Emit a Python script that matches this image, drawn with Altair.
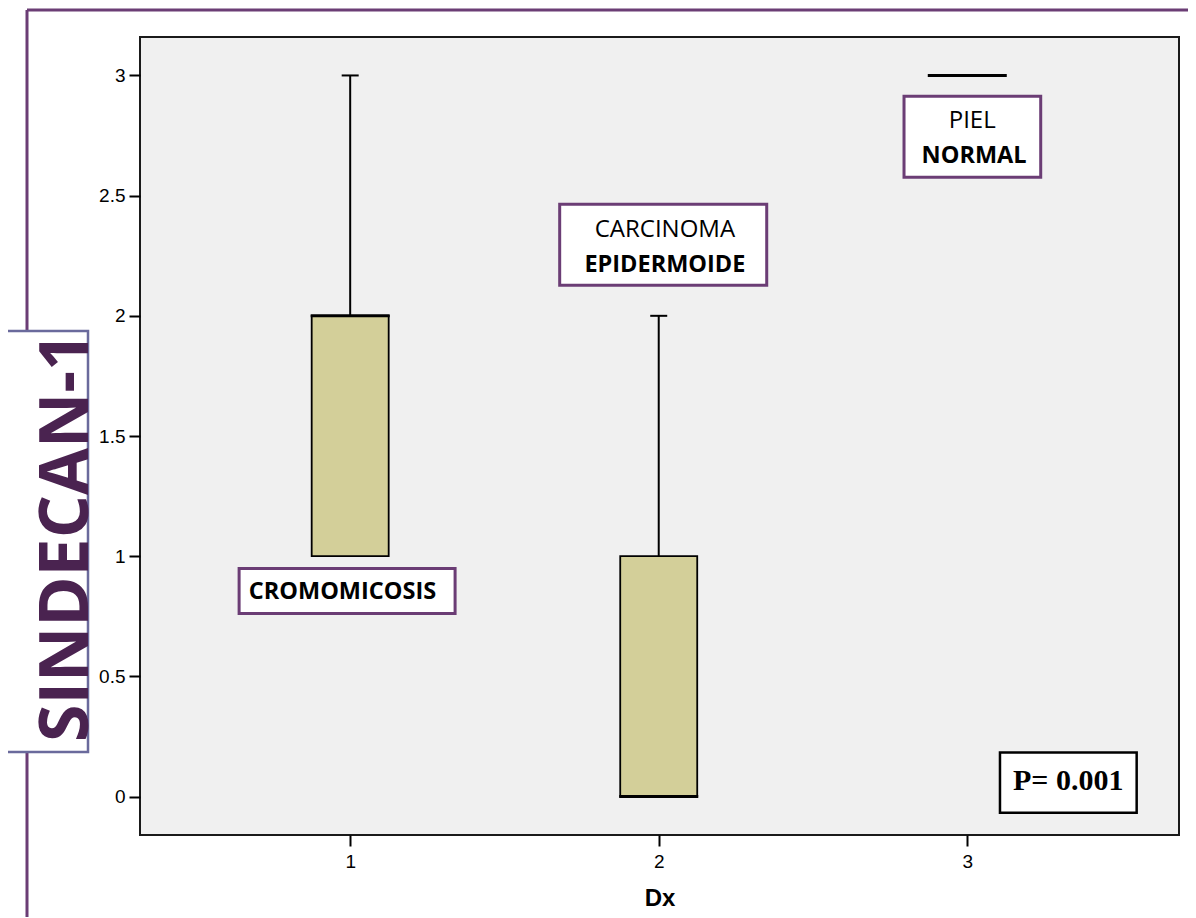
import altair as alt
import pandas as pd

# ---- box plot summary ----
groups = [1, 2, 3]
q1 = [1, 0, 3]
median = [2, 0, 3]
q3 = [2, 1, 3]
whisk_lo = [1, 0, 3]
whisk_hi = [3, 2, 3]

# ---- annotation boxes (data coordinates) ----
ann_x1 = [0.64, 1.679, 2.795]
ann_x2 = [1.34, 2.35, 3.238]
ann_y1 = [0.762, 2.127, 2.576]
ann_y2 = [0.949, 2.464, 2.913]

# ---- annotation texts ----
txt_labels = ["CROMOMICOSIS", "CARCINOMA", "EPIDERMOIDE", "PIEL", "NORMAL"]
txt_x = [0.975, 2.02, 2.02, 3.016, 3.022]
txt_y = [0.853, 2.355, 2.21, 2.809, 2.663]
txt_bold = [True, False, True, False, True]

p_label = ["P= 0.001"]
p_box_x1 = [3.106]
p_box_x2 = [3.549]
p_box_y1 = [-0.067]
p_box_y2 = [0.183]
p_txt_x = [3.327]
p_txt_y = [0.065]

y_ticks = [0, 0.5, 1, 1.5, 2, 2.5, 3]
x_ticks = [1, 2, 3]

PURPLE = "#6b3d75"
TITLE_PURPLE = "#4a2350"

box_df = pd.DataFrame(dict(Dx=groups, q1=q1, median=median, q3=q3, lo=whisk_lo, hi=whisk_hi))
ann_df = pd.DataFrame(dict(x1=ann_x1, x2=ann_x2, y1=ann_y1, y2=ann_y2))
txt_df = pd.DataFrame(dict(label=txt_labels, x=txt_x, y=txt_y, bold=txt_bold))
p_df = pd.DataFrame(dict(label=p_label, x1=p_box_x1, x2=p_box_x2, y1=p_box_y1, y2=p_box_y2,
                         tx=p_txt_x, ty=p_txt_y))

xscale = alt.Scale(domain=[0.335, 3.67], nice=False, zero=False)
yscale = alt.Scale(domain=[-0.16, 3.16], nice=False, zero=False)

xaxis = alt.Axis(values=x_ticks, format="d", title="Dx", labelPadding=6, titlePadding=15)
yaxis = alt.Axis(values=y_ticks, format="~g", title=None, labelPadding=4)

base = alt.Chart(box_df)

X = alt.X("Dx:Q", scale=xscale, axis=xaxis)
def Y(f):
    return alt.Y(f, scale=yscale, axis=yaxis)

whisker_up = base.mark_rule(color="#000", strokeWidth=2).encode(
    x=X, y=Y("q3:Q"), y2="hi:Q")
whisker_lo = base.mark_rule(color="#000", strokeWidth=2).encode(
    x=X, y=Y("lo:Q"), y2="q1:Q")
cap_up = base.transform_filter("datum.hi > datum.q3").mark_tick(
    color="#000", size=17, thickness=2, orient="horizontal", opacity=1).encode(x=X, y=Y("hi:Q"))
cap_lo = base.transform_filter("datum.lo < datum.q1").mark_tick(
    color="#000", size=17, thickness=2, orient="horizontal", opacity=1).encode(x=X, y=Y("lo:Q"))
boxes = base.transform_filter("datum.q3 > datum.q1").mark_bar(
    size=77, fill="#d3cf99", stroke="#000", strokeWidth=1.8, opacity=1).encode(
    x=X, y=Y("q1:Q"), y2="q3:Q")
med = base.mark_tick(color="#000", size=79, thickness=3, orient="horizontal", opacity=1).encode(
    x=X, y=Y("median:Q"))

ann_boxes = alt.Chart(ann_df).mark_rect(fill="white", stroke=PURPLE, strokeWidth=3).encode(
    x=alt.X("x1:Q", scale=xscale, axis=xaxis), x2="x2:Q", y=Y("y1:Q"), y2="y2:Q")

txt_bold_layer = alt.Chart(txt_df).transform_filter("datum.bold").mark_text(
    font="Open Sans", fontSize=23.5, fontWeight="bold", color="#000",
    align="center", baseline="middle").encode(
    x=alt.X("x:Q", scale=xscale, axis=xaxis), y=Y("y:Q"), text="label:N")
txt_norm_layer = alt.Chart(txt_df).transform_filter("!datum.bold").mark_text(
    font="Open Sans", fontSize=24, fontWeight="normal", color="#000",
    align="center", baseline="middle").encode(
    x=alt.X("x:Q", scale=xscale, axis=xaxis), y=Y("y:Q"), text="label:N")

p_box = alt.Chart(p_df).mark_rect(fill="white", stroke="#000", strokeWidth=2.5).encode(
    x=alt.X("x1:Q", scale=xscale, axis=xaxis), x2="x2:Q", y=Y("y1:Q"), y2="y2:Q")
p_txt = alt.Chart(p_df).mark_text(font="Liberation Serif", fontSize=30, fontWeight="bold",
                                  color="#000", align="center", baseline="middle").encode(
    x=alt.X("tx:Q", scale=xscale, axis=xaxis), y=Y("ty:Q"), text="label:N")

one = alt.Data(values=[{"a": 1}])
frame_left = alt.Chart(one).mark_rule(color=PURPLE, strokeWidth=3).encode(
    x=alt.value(-113), y=alt.value(-27), y2=alt.value(900))
frame_top = alt.Chart(one).mark_rule(color=PURPLE, strokeWidth=3).encode(
    x=alt.value(-113), x2=alt.value(1070), y=alt.value(-27))
title_box = alt.Chart(one).mark_rect(fill="white", stroke="#6a6a9c", strokeWidth=2.5).encode(
    x=alt.value(-134), x2=alt.value(-52), y=alt.value(294), y2=alt.value(715))
title_txt = alt.Chart(one).mark_text(text="SINDECAN-1", font="Open Sans", fontSize=68,
                                     fontWeight="bold", color=TITLE_PURPLE, angle=270,
                                     align="center", baseline="middle").encode(
    x=alt.value(-72), y=alt.value(500))

chart = alt.layer(
    frame_left, frame_top, title_box, title_txt,
    whisker_up, whisker_lo, cap_up, cap_lo, boxes, med,
    ann_boxes, txt_bold_layer, txt_norm_layer, p_box, p_txt
).properties(
    width=1039, height=798,
    autosize=alt.AutoSizeParams(type="none"),
    padding={"left": 132, "top": 29, "right": 9, "bottom": 82},
).configure(
    background="white"
).configure_view(
    fill="#f0f0f0", stroke="#1a1a1a", strokeWidth=2
).configure_axis(
    grid=False, domain=False, tickSize=11, tickWidth=2, tickColor="#000",
    labelFont="Liberation Sans", labelFontSize=19, labelColor="#000",
    titleFont="Liberation Sans", titleFontSize=24, titleFontWeight="bold", titleColor="#000",
    labelFlush=False,
)

chart.save("out.html", embed_options={"renderer": "svg", "actions": False})
